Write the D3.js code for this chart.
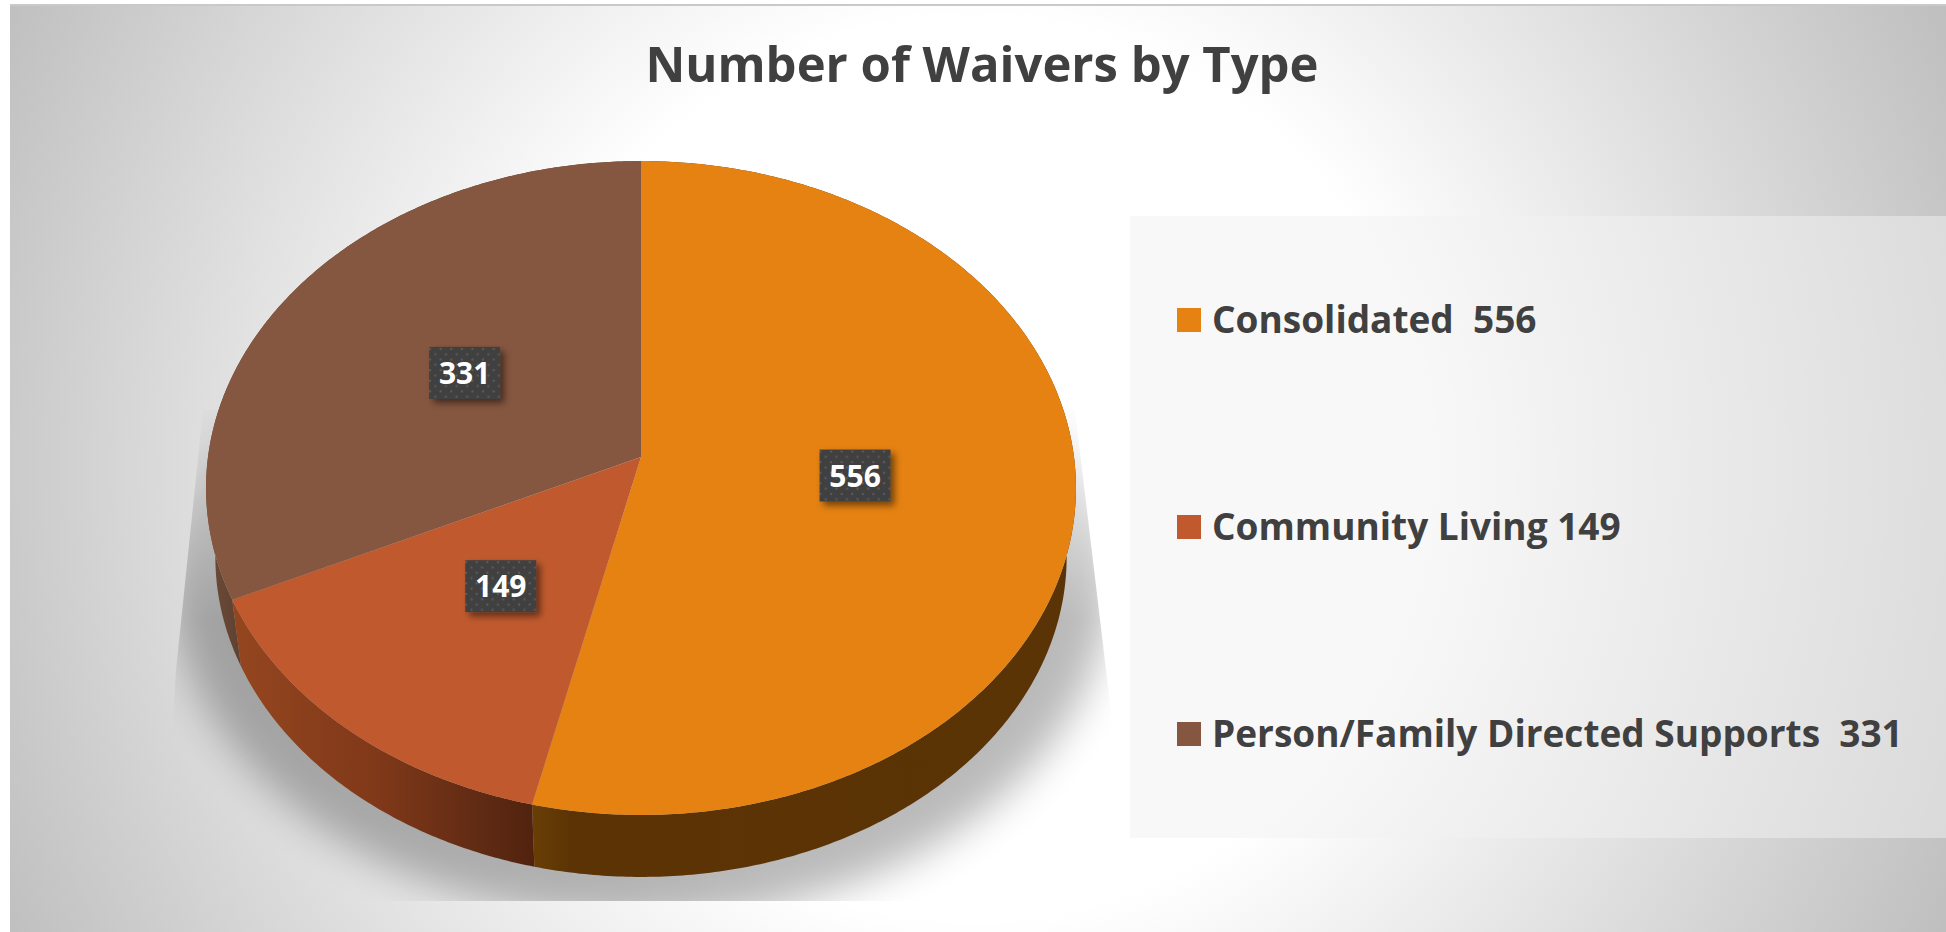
<!DOCTYPE html>
<html>
<head>
<meta charset="utf-8">
<title>Number of Waivers by Type</title>
<script src="https://cdn.jsdelivr.net/npm/d3@7"></script>
<style>
    html, body { margin: 0; padding: 0; background: #fff; overflow: hidden; }
    text { font-family: "Open Sans", Lato, sans-serif; font-weight: 700; white-space: pre; }
</style>
</head>
<body>
<div id="chart"></div>
<script>
// data
const categories = ['Consolidated', 'Community Living', 'Person/Family Directed Supports'];
const values = [556, 149, 331];
const legendLabels = ['Consolidated  556', 'Community Living 149', 'Person/Family Directed Supports  331'];
const topColors = ['#E68212', '#C05A2E', '#865740'];
const chartTitle = 'Number of Waivers by Type';

const svg_width = 1946;
const svg_height = 932;

const svg = d3.select('#chart').append('svg')
    .attr('width', svg_width).attr('height', svg_height);
const defs = svg.append('defs');

// background gradient, white in the middle and grey in the corners
const bgGrad = defs.append('radialGradient').attr('id', 'bg')
    .attr('gradientUnits', 'userSpaceOnUse')
    .attr('cx', 973).attr('cy', 469).attr('r', 1075);
bgGrad.append('stop').attr('offset', 0.42).attr('stop-color', '#fff');
bgGrad.append('stop').attr('offset', 1).attr('stop-color', '#bfbfbf');

svg.append('rect').attr('x', 10).attr('y', 5)
    .attr('width', svg_width - 10).attr('height', svg_height - 5)
    .attr('fill', 'url(#bg)');
svg.append('rect').attr('x', 10).attr('y', 4)
    .attr('width', svg_width - 10).attr('height', 2)
    .attr('fill', '#c9c9c9');

// pie lies on the table, so the disc goes through a perspective projection
const apex = { x: 641, y: 457 };
const persp = 0.0948;
const xScale = d3.scaleLinear([-1, 1], [apex.x - 433, apex.x + 433]);
const yScale = d3.scaleLinear([-1, 1], [apex.y - 324, apex.y + 324]);

function project(angle, r) {
    const x = r * Math.sin(angle);
    const y = -r * Math.cos(angle);
    const w = 1 - persp * y;
    return [xScale(x / w), yScale(y / w)];
}
// bottom rim of the pie, slightly smaller than the top one
const rimMidY = 488;
const rimScale = 0.9786;
const rimMidYLow = 557;
function projectLow(angle) {
    const p = project(angle, 1);
    return [apex.x + (p[0] - apex.x) * rimScale, rimMidYLow + (p[1] - rimMidY) * rimScale];
}

const color = d3.scaleOrdinal(categories, topColors);
const pie = d3.pie().sort(null).value(d => d.value);
const slices = pie(categories.map((c, i) => ({ name: c, value: values[i] })));
const line = d3.line();

function arcAngles(d) {
    const n = Math.ceil((d.endAngle - d.startAngle) / 0.01);
    return d3.range(n + 1).map(i => d.startAngle + (d.endAngle - d.startAngle) * i / n);
}

// wall gradients
function wallGradient(id, stops) {
    const g = defs.append('linearGradient').attr('id', id)
        .attr('gradientUnits', 'userSpaceOnUse')
        .attr('x1', 206).attr('x2', 1076).attr('y1', 0).attr('y2', 0);
    stops.forEach(s => g.append('stop').attr('offset', s[0]).attr('stop-color', s[1]));
}
wallGradient('wall0', [[0.37, '#6b4006'], [0.42, '#5c3304'], [1, '#5a3406']]);
wallGradient('wall1', [[0.03, '#95461f'], [0.2, '#7f3819'], [0.32, '#5f2a13'], [0.38, '#50220f']]);
wallGradient('wall2', [[0, '#6d4b38'], [0.05, '#5c3f2e']]);

// ground shadow, cut by a slanted box like the original and faded towards the top
defs.append('filter').attr('id', 'groundBlur')
    .attr('x', '-20%').attr('y', '-20%').attr('width', '140%').attr('height', '140%')
    .append('feGaussianBlur').attr('stdDeviation', 20);
defs.append('clipPath').attr('id', 'groundClip').append('polygon')
    .attr('points', '203,410 1075,410 1112,720 1112,901 160,901 176,670');
const fade = defs.append('linearGradient').attr('id', 'groundFade')
    .attr('gradientUnits', 'userSpaceOnUse')
    .attr('x1', 0).attr('x2', 0).attr('y1', 400).attr('y2', 620);
fade.append('stop').attr('offset', 0).attr('stop-color', '#fff').attr('stop-opacity', 0.15);
fade.append('stop').attr('offset', 1).attr('stop-color', '#fff').attr('stop-opacity', 1);
defs.append('mask').attr('id', 'groundMask')
    .attr('maskUnits', 'userSpaceOnUse')
    .attr('x', 0).attr('y', 0).attr('width', svg_width).attr('height', svg_height)
    .append('rect').attr('width', svg_width).attr('height', svg_height)
    .attr('fill', 'url(#groundFade)');
svg.append('g').attr('clip-path', 'url(#groundClip)')
    .append('g').attr('mask', 'url(#groundMask)')
    .append('ellipse')
    .attr('cx', 641).attr('cy', 575).attr('rx', 470).attr('ry', 345)
    .attr('fill', '#000').attr('opacity', 0.27)
    .attr('filter', 'url(#groundBlur)');

// side walls
const pieGroup = svg.append('g').attr('class', 'pie');
pieGroup.selectAll('.wall').data(slices).join('path')
    .attr('class', 'wall')
    .attr('fill', (d, i) => `url(#wall${i})`)
    .attr('d', d => {
        const a = arcAngles(d);
        return line(a.map(t => project(t, 1)).concat(a.slice().reverse().map(projectLow))) + 'Z';
    });

// top of the slices
pieGroup.selectAll('.slice').data(slices).join('path')
    .attr('class', 'slice')
    .attr('fill', d => color(d.data.name))
    .attr('d', d => line([project(0, 0)].concat(arcAngles(d).map(t => project(t, 1)))) + 'Z');

// title
svg.append('text').attr('x', 982).attr('y', 82)
    .attr('text-anchor', 'middle')
    .attr('font-size', 49)
    .attr('fill', '#404040')
    .text(chartTitle);

// legend
svg.append('rect').attr('x', 1130).attr('y', 216)
    .attr('width', svg_width - 1130).attr('height', 622)
    .attr('fill', '#f2f2f2').attr('opacity', 0.5);

const legendY = d3.scalePoint().domain(categories).range([320, 734]);
const legend = svg.selectAll('.legend').data(categories).join('g')
    .attr('class', 'legend')
    .attr('transform', d => `translate(1177,${legendY(d)})`);
legend.append('rect').attr('x', 0).attr('y', -12)
    .attr('width', 24).attr('height', 24)
    .attr('fill', d => color(d));
legend.append('text').attr('x', 35).attr('y', 13)
    .attr('font-size', 37)
    .attr('fill', '#404040')
    .text((d, i) => legendLabels[i]);

// data labels
const pat = defs.append('pattern').attr('id', 'dots')
    .attr('patternUnits', 'userSpaceOnUse')
    .attr('width', 10.6).attr('height', 10.6);
pat.append('rect').attr('width', 10.6).attr('height', 10.6).attr('fill', '#404040');
pat.append('rect').attr('x', 1.5).attr('y', 1.5).attr('width', 2).attr('height', 2).attr('fill', '#5c5c5c');
pat.append('rect').attr('x', 6.8).attr('y', 6.8).attr('width', 2).attr('height', 2).attr('fill', '#5c5c5c');

const shadow = defs.append('filter').attr('id', 'labelShadow')
    .attr('x', '-30%').attr('y', '-30%').attr('width', '170%').attr('height', '170%');
shadow.append('feDropShadow')
    .attr('dx', 4).attr('dy', 4).attr('stdDeviation', 3.5)
    .attr('flood-color', '#000').attr('flood-opacity', 0.5);

const labels = svg.selectAll('.label').data(slices).join('g')
    .attr('class', 'label')
    .attr('transform', d => {
        const p = project((d.startAngle + d.endAngle) / 2, 0.495);
        return `translate(${p[0]},${p[1]})`;
    });
labels.append('rect').attr('x', -35.5).attr('y', -26)
    .attr('width', 71).attr('height', 52)
    .attr('fill', 'url(#dots)')
    .attr('filter', 'url(#labelShadow)');
labels.append('text').attr('y', 11)
    .attr('text-anchor', 'middle')
    .attr('font-size', 30)
    .attr('fill', '#fff')
    .text(d => d.data.value);
</script>
</body>
</html>
